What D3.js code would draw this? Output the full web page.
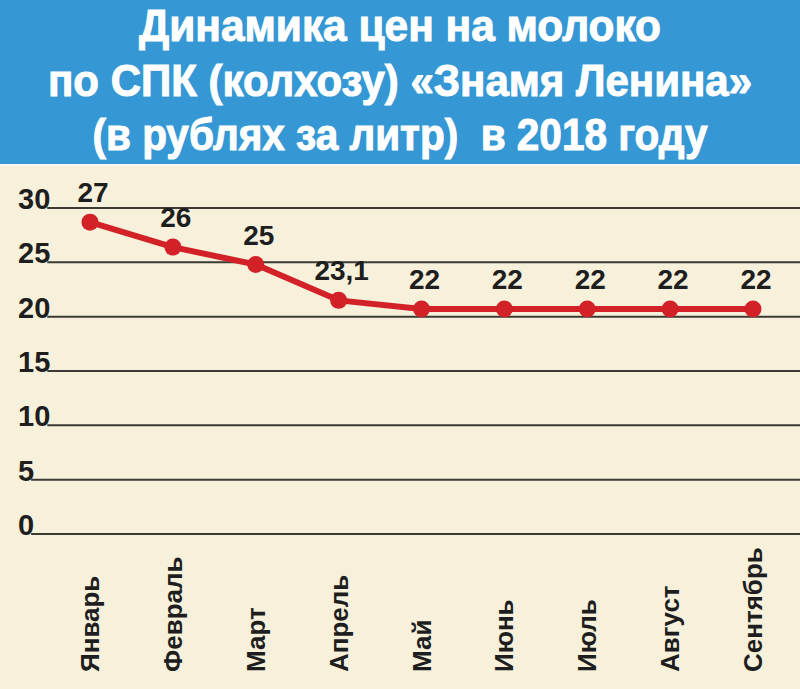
<!DOCTYPE html>
<html>
<head>
<meta charset="utf-8">
<script src="https://cdn.jsdelivr.net/npm/d3@7"></script>
<style>
  html, body { margin: 0; padding: 0; background: #f7f1dc; }
  svg { display: block; }
</style>
</head>
<body>
<div id="chart"></div>
<script>
(function(){
  'use strict';

  // title lines
  var titleLines = [
    'Динамика цен на молоко',
    'по СПК (колхозу) «Знамя Ленина»',
    '(в рублях за литр)  в 2018 году'
  ];

  // months on x axis
  var months = ['Январь', 'Февраль', 'Март', 'Апрель', 'Май', 'Июнь', 'Июль', 'Август', 'Сентябрь'];

  // price printed above each point (rub per litre)
  var prices = [27, 26, 25, 23.1, 22, 22, 22, 22, 22];

  // where the original actually draws each point against its own axis
  var plotted = [28.7, 26.4, 24.8, 21.5, 20.7, 20.7, 20.7, 20.7, 20.7];

  // y axis ticks
  var yTicks = [0, 5, 10, 15, 20, 25, 30];

  var width = 800, height = 689;

  var svg = d3.select('#chart')
    .append('svg')
    .attr('width', width)
    .attr('height', height);

  // backgrounds
  svg.append('rect')
    .attr('width', width).attr('height', height)
    .attr('fill', '#f7f1dc');

  svg.append('rect')
    .attr('width', width).attr('height', 164)
    .attr('fill', '#3598d4');

  svg.append('rect')
    .attr('y', 164).attr('width', width).attr('height', 2)
    .attr('fill', '#fbf8ee');

  // title (condensed look: squeeze each line to the original width)
  var titleWidths = [522, 704, 615];
  var titleBase = [41, 96, 150];
  svg.selectAll('text.title')
    .data(titleLines)
    .enter()
    .append('text')
    .attr('class', 'title')
    .attr('x', 400)
    .attr('y', function(d, i){ return titleBase[i]; })
    .attr('text-anchor', 'middle')
    .attr('textLength', function(d, i){ return titleWidths[i]; })
    .attr('lengthAdjust', 'spacingAndGlyphs')
    .style('white-space', 'pre')
    .attr('font-family', '"Liberation Sans Narrow", "Liberation Sans", Arial, sans-serif')
    .attr('font-weight', 'bold')
    .attr('font-size', 44)
    .attr('fill', '#ffffff')
    .attr('stroke', '#ffffff')
    .attr('stroke-width', 1)
    .text(function(d){ return d; });

  var x = d3.scalePoint()
    .domain(months)
    .range([90, 753]);

  var y = d3.scaleLinear()
    .domain([0, 30])
    .range([534, 208]);

  var numFont = '"Liberation Sans", Arial, sans-serif';

  // tick labels, then gridlines starting just under the label end
  var ticks = svg.selectAll('g.tick')
    .data(yTicks)
    .enter()
    .append('g')
    .attr('class', 'tick');

  ticks.append('text')
    .attr('x', 18)
    .attr('y', function(d){ return y(d) + 1; })
    .attr('font-family', numFont)
    .attr('font-weight', 'bold')
    .attr('font-size', 29)
    .attr('fill', '#1e1e1e')
    .text(function(d){ return d; });

  ticks.insert('line', 'text')
    .attr('x1', function(){
      var t = this.parentNode.querySelector('text');
      return 18 + t.getComputedTextLength() - 3;
    })
    .attr('x2', width)
    .attr('y1', function(d){ return y(d); })
    .attr('y2', function(d){ return y(d); })
    .attr('stroke', '#3b3a33')
    .attr('stroke-width', 2);

  // line + points
  var line = d3.line()
    .x(function(d, i){ return x(months[i]); })
    .y(function(d){ return y(d); });

  svg.append('path')
    .datum(plotted)
    .attr('d', line)
    .attr('fill', 'none')
    .attr('stroke', '#d32128')
    .attr('stroke-width', 6)
    .attr('stroke-linejoin', 'round');

  svg.selectAll('circle')
    .data(plotted)
    .enter()
    .append('circle')
    .attr('cx', function(d, i){ return x(months[i]); })
    .attr('cy', function(d){ return y(d); })
    .attr('r', 8.5)
    .attr('fill', '#d32128');

  // value labels
  svg.selectAll('text.val')
    .data(prices)
    .enter()
    .append('text')
    .attr('class', 'val')
    .attr('x', function(d, i){ return x(months[i]) + 3; })
    .attr('y', function(d, i){ return y(plotted[i]) - 20; })
    .attr('text-anchor', 'middle')
    .attr('font-family', numFont)
    .attr('font-weight', 'bold')
    .attr('font-size', 28)
    .attr('fill', '#1e1e1e')
    .text(function(d){ return String(d).replace('.', ','); });

  // month labels, rotated
  svg.selectAll('text.month')
    .data(months)
    .enter()
    .append('text')
    .attr('class', 'month')
    .attr('transform', function(d){
      return 'translate(' + (x(d) + 9) + ',672) rotate(-90)';
    })
    .attr('font-family', numFont)
    .attr('font-weight', 'bold')
    .attr('font-size', 26)
    .attr('fill', '#1e1e1e')
    .text(function(d){ return d; });

})();
</script>
</body>
</html>
